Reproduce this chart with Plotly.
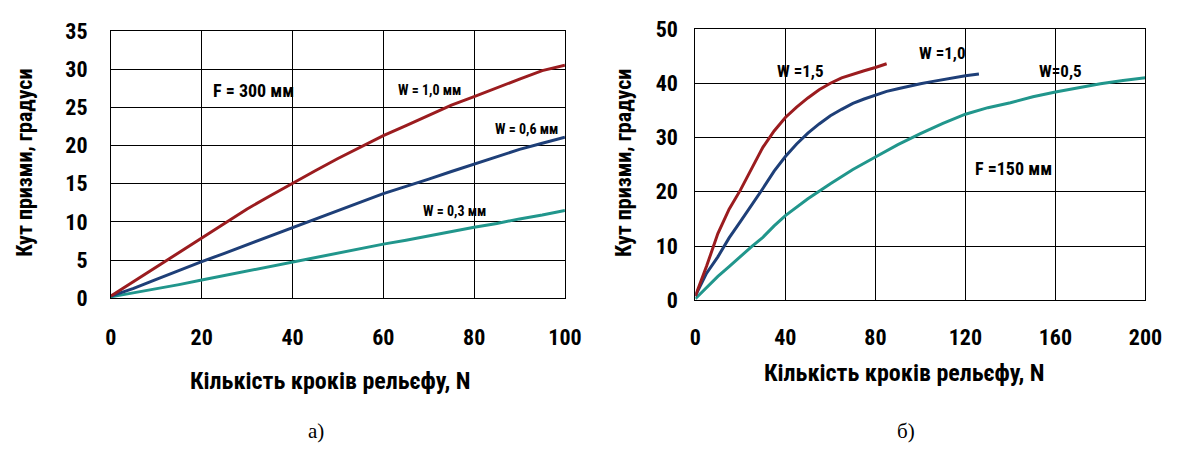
import plotly.graph_objects as go

# Panel a) F = 300 mm
n_a = [0, 5, 10, 15, 20, 25, 30, 35, 40, 45, 50, 55, 60, 65, 70, 75, 80, 85, 90, 95, 100]
a_w10 = [0.3, 2.2, 4.2, 6.1, 8.0, 9.8, 11.7, 13.4, 15.1, 16.7, 18.3, 19.8, 21.3, 22.6, 23.9, 25.3, 26.4, 27.6, 28.7, 29.8, 30.5]
a_w06 = [0.3, 1.3, 2.5, 3.7, 4.8, 5.9, 7.0, 8.1, 9.3, 10.4, 11.5, 12.6, 13.7, 14.6, 15.6, 16.6, 17.6, 18.5, 19.5, 20.3, 21.1]
a_w03 = [0.2, 0.7, 1.3, 1.8, 2.4, 3.0, 3.6, 4.2, 4.8, 5.4, 5.9, 6.5, 7.1, 7.6, 8.2, 8.7, 9.3, 9.8, 10.4, 10.9, 11.5]

# Panel b) F = 150 mm
n_b15 = [0, 5, 10, 15, 20, 25, 30, 35, 40, 45, 50, 55, 60, 65, 70, 75, 80, 85]
b_w15 = [0.8, 6.3, 12.3, 16.8, 20.3, 24.3, 28.2, 31.2, 33.7, 35.6, 37.3, 38.8, 40.0, 41.0, 41.7, 42.3, 42.9, 43.6]
n_b10 = [0, 5, 10, 15, 20, 25, 30, 35, 40, 45, 50, 55, 60, 65, 70, 75, 80, 85, 90, 95, 100, 105, 110, 115, 120, 126]
b_w10 = [0.8, 5.0, 8.0, 11.5, 14.5, 17.5, 20.6, 23.8, 26.5, 28.8, 30.8, 32.5, 34.0, 35.2, 36.3, 37.1, 37.8, 38.5, 39.0, 39.5, 39.9, 40.3, 40.7, 41.1, 41.4, 41.7]
n_b05 = [0, 5, 10, 15, 20, 25, 30, 35, 40, 50, 60, 70, 80, 90, 100, 110, 120, 130, 140, 150, 160, 170, 180, 190, 200]
b_w05 = [0.3, 2.4, 4.4, 6.2, 8.1, 9.9, 11.6, 13.7, 15.6, 18.7, 21.5, 24.1, 26.4, 28.7, 30.7, 32.6, 34.3, 35.5, 36.4, 37.5, 38.4, 39.2, 39.9, 40.5, 41.0]

RED = "#9B1C1F"
BLUE = "#1E3F78"
TEAL = "#21968C"
FONT = "Liberation Sans Narrow, Arial Narrow, Roboto Condensed, DejaVu Sans Condensed, Liberation Sans, Arial, sans-serif"

fig = go.Figure()
for x, y, c in [(n_a, a_w03, TEAL), (n_a, a_w06, BLUE), (n_a, a_w10, RED)]:
    fig.add_trace(go.Scatter(x=x, y=y, mode="lines", line=dict(color=c, width=3),
                             xaxis="x", yaxis="y", showlegend=False))
for x, y, c in [(n_b05, b_w05, TEAL), (n_b10, b_w10, BLUE), (n_b15, b_w15, RED)]:
    fig.add_trace(go.Scatter(x=x, y=y, mode="lines", line=dict(color=c, width=3),
                             xaxis="x2", yaxis="y2", showlegend=False))

def axis(**kw):
    d = dict(showgrid=True, gridcolor="black", gridwidth=1, showline=True,
             linecolor="black", linewidth=1, mirror=True, ticks="",
             zeroline=False, tickfont=dict(family=FONT, size=22, color="black", weight="bold"))
    d.update(kw)
    return d

fig.update_layout(
    width=1185, height=456,
    margin=dict(l=0, r=0, t=0, b=0),
    paper_bgcolor="white", plot_bgcolor="white",
    font=dict(family=FONT, color="black"),
    xaxis=axis(domain=[107/1185, 570/1185], range=[0, 100], dtick=20, anchor="y", ticklabelstandoff=19),
    yaxis=axis(domain=[1-303/456, 1-20/456], range=[0, 35], dtick=5, anchor="x", ticklabelstandoff=18),
    xaxis2=axis(domain=[703/1185, 1162/1185], range=[0, 200], dtick=40, anchor="y2", ticklabelstandoff=17),
    yaxis2=axis(domain=[1-305/456, 1-18/456], range=[0, 50], dtick=10, anchor="x2", ticklabelstandoff=12),
)

def ann(text, x, y, size=17, angle=0, family=FONT, bold=True):
    t = f"<b>{text}</b>" if bold else text
    fig.add_annotation(text=t, x=x, y=y, xref="paper", yref="paper", showarrow=False,
                       textangle=angle, font=dict(family=family, size=size, color="black"),
                       xanchor="center", yanchor="middle")

# axis titles
ann("Кут призми, градуси", 19/1185, 1-160/456, size=22, angle=-90)
ann("Кут призми, градуси", 629/1185, 1-160/456, size=22, angle=-90)
ann("Кількість кроків рельєфу, N", 331/1185, 1-390/456, size=24)
ann("Кількість кроків рельєфу, N", 916/1185, 1-382/456, size=24)
ann("а)", 316/1185, 1-443/456, size=21, family="Liberation Serif, Times New Roman, serif", bold=False)
ann("б)", 918/1185, 1-443/456, size=21, family="Liberation Serif, Times New Roman, serif", bold=False)

# in-plot labels
ann("F = 300 мм", 252/1185, 1-83/456, size=18)
ann("W = 1,0 мм", 432/1185, 1-82/456, size=14)
ann("W = 0,6 мм", 531/1185, 1-124/456, size=14)
ann("W = 0,3 мм", 457/1185, 1-211/456, size=14)
ann("W =1,5", 810/1185, 1-62/456, size=17)
ann("W =1,0", 955/1185, 1-43/456, size=17)
ann("W=0,5", 1075/1185, 1-62/456, size=17)
ann("F =150 мм", 1027/1185, 1-166/456, size=18)

fig.write_html("out.html")
